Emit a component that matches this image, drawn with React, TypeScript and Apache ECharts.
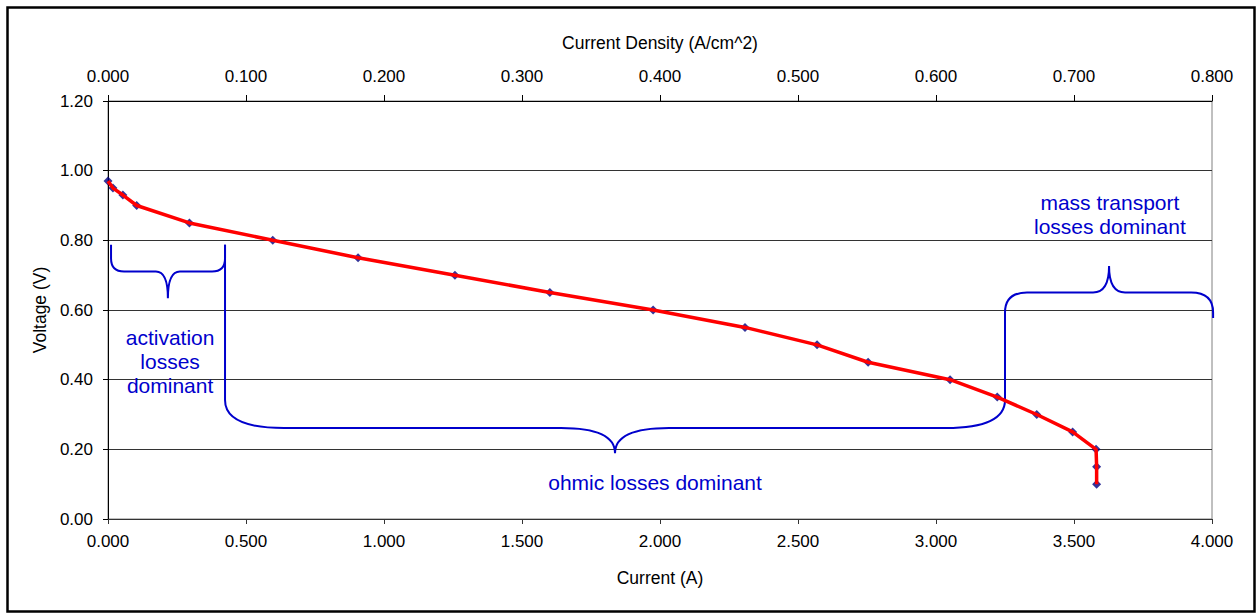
import React, { useEffect, useRef } from "react";
import * as echarts from "echarts";

// Polarisation curve data
const currentA = [0, 0.018, 0.054, 0.104, 0.295, 0.597, 0.906, 1.257, 1.601, 1.975, 2.308, 2.569, 2.754, 3.051, 3.222, 3.365, 3.495, 3.58, 3.582, 3.582];
const voltageV = [0.97, 0.95, 0.93, 0.9, 0.85, 0.8, 0.75, 0.7, 0.65, 0.6, 0.55, 0.5, 0.45, 0.4, 0.35, 0.3, 0.25, 0.2, 0.15, 0.1];

// Axis ranges
const currentRange = [0, 4.0];
const currentInterval = 0.5;
const densityRange = [0, 0.8];
const densityInterval = 0.1;
const voltageRange = [0, 1.2];
const voltageInterval = 0.2;

// Annotation anchors (data units)
const braceXs1 = [0.011, 0.424, 3.25];
const braceXs2 = [0.424, 3.25, 4.004];
const braceArm1 = [0.787, 0.787, 0.571];
const braceArm2 = [0.787, 0.594, 0.577];
const braceBar = [0.7105, 0.261, 0.65];
const braceTipX = [0.217, 1.837, 3.627];
const braceTipY = [0.634, 0.189, 0.726];
const braceCornerRx = [13, 59, 22];
const braceCornerRy = [13, 28, 20];
const braceTipRx = [12, 54, 16];

const noteTexts = ["activation\nlosses\ndominant", "ohmic losses dominant", "mass transport\nlosses dominant"];
const noteX = [0.225, 1.982, 3.63];
const noteY = [0.451, 0.106, 0.873];

const FONT = '"Liberation Sans", Arial, Helvetica, sans-serif';
const BLUE = "#0000CC";

export default function App() {
  const ref = useRef<HTMLDivElement>(null);
  useEffect(() => {
    if (!ref.current) return;
    const chart = echarts.init(ref.current, undefined, { renderer: "svg" });
    const pts = currentA.map((c, i) => [c, voltageV[i]]);

    const renderItem = (params: any, api: any) => {
      const children: any[] = [];
      for (let i = 0; i < braceXs1.length; i++) {
        const [x1, a1] = api.coord([braceXs1[i], braceArm1[i]]);
        const [x2, a2] = api.coord([braceXs2[i], braceArm2[i]]);
        const bar = api.coord([0, braceBar[i]])[1];
        const [xt, yt] = api.coord([braceTipX[i], braceTipY[i]]);
        const s1 = Math.sign(bar - a1);
        const s2 = Math.sign(bar - a2);
        const crx = braceCornerRx[i];
        const cry = braceCornerRy[i];
        const trx = braceTipRx[i];
        const d = [
          `M${x1},${a1}`,
          `L${x1},${bar - s1 * cry}`,
          `Q${x1},${bar} ${x1 + crx},${bar}`,
          `L${xt - trx},${bar}`,
          `Q${xt},${bar} ${xt},${yt}`,
          `Q${xt},${bar} ${xt + trx},${bar}`,
          `L${x2 - crx},${bar}`,
          `Q${x2},${bar} ${x2},${bar - s2 * cry}`,
          `L${x2},${a2}`,
        ].join(" ");
        children.push({
          type: "path",
          shape: { pathData: d },
          style: { stroke: BLUE, fill: "none", lineWidth: 2 },
        });
      }
      for (let i = 0; i < noteTexts.length; i++) {
        const [tx, ty] = api.coord([noteX[i], noteY[i]]);
        children.push({
          type: "text",
          x: tx,
          y: ty,
          style: {
            text: noteTexts[i],
            fill: BLUE,
            fontSize: 21,
            fontFamily: FONT,
            align: "center",
            verticalAlign: "middle",
            lineHeight: 24,
          },
        });
      }
      return { type: "group", children };
    };

    chart.setOption({
      animation: false,
      textStyle: { fontFamily: FONT },
      grid: {
        left: 108,
        right: 45,
        top: 101,
        bottom: 94,
        show: true,
        borderColor: "#808080",
        borderWidth: 1,
        backgroundColor: "transparent",
      },
      graphic: [
        {
          type: "rect",
          left: 5,
          top: 5,
          shape: { x: 0, y: 0, width: 1247, height: 604 },
          style: { fill: "none", stroke: "#000", lineWidth: 2.5 },
          silent: true,
        },
      ],
      xAxis: [
        {
          type: "value",
          position: "bottom",
          min: currentRange[0],
          max: currentRange[1],
          interval: currentInterval,
          name: "Current (A)",
          nameLocation: "middle",
          nameGap: 50,
          nameTextStyle: { color: "#000", fontSize: 17.5, fontFamily: FONT },
          axisLine: { show: true, onZero: false, lineStyle: { color: "#333", width: 1 } },
          axisTick: { show: true, length: 5, lineStyle: { color: "#333" } },
          axisLabel: { color: "#000", fontSize: 17, fontFamily: FONT, margin: 14, formatter: (v: number) => v.toFixed(3) },
          splitLine: { show: false },
        },
        {
          type: "value",
          position: "top",
          min: densityRange[0],
          max: densityRange[1],
          interval: densityInterval,
          name: "Current Density (A/cm^2)",
          nameLocation: "middle",
          nameGap: 49,
          nameTextStyle: { color: "#000", fontSize: 17.5, fontFamily: FONT },
          axisLine: { show: true, onZero: false, lineStyle: { color: "#000", width: 1 } },
          axisTick: { show: true, length: 6, lineStyle: { color: "#000" } },
          axisLabel: { color: "#000", fontSize: 17, fontFamily: FONT, margin: 16, formatter: (v: number) => v.toFixed(3) },
          splitLine: { show: false },
        },
      ],
      yAxis: {
        type: "value",
        min: voltageRange[0],
        max: voltageRange[1],
        interval: voltageInterval,
        name: "Voltage (V)",
        nameLocation: "middle",
        nameGap: 59,
        nameTextStyle: { color: "#000", fontSize: 17.5, fontFamily: FONT },
        axisLine: { show: true, onZero: false, lineStyle: { color: "#000", width: 1 } },
        axisTick: { show: true, length: 5, lineStyle: { color: "#000" } },
        axisLabel: { color: "#000", fontSize: 17, fontFamily: FONT, margin: 15, formatter: (v: number) => v.toFixed(2) },
        splitLine: { show: true, lineStyle: { color: "#333", width: 1 } },
      },
      series: [
        {
          type: "custom",
          xAxisIndex: 0,
          yAxisIndex: 0,
          data: [[0, 0]],
          renderItem,
          silent: true,
          z: 1,
        },
        {
          type: "scatter",
          xAxisIndex: 0,
          yAxisIndex: 0,
          data: pts,
          symbol: "diamond",
          symbolSize: 9,
          itemStyle: { color: "#000080" },
          z: 2,
        },
        {
          type: "line",
          xAxisIndex: 0,
          yAxisIndex: 0,
          data: pts,
          showSymbol: false,
          symbol: "none",
          lineStyle: { color: "#ff0000", width: 3.5 },
          z: 3,
        },
      ],
    });
    return () => chart.dispose();
  }, []);
  return <div ref={ref} style={{ position: "fixed", left: 0, top: 0, width: 1257, height: 613, background: "#fff" }} />;
}
